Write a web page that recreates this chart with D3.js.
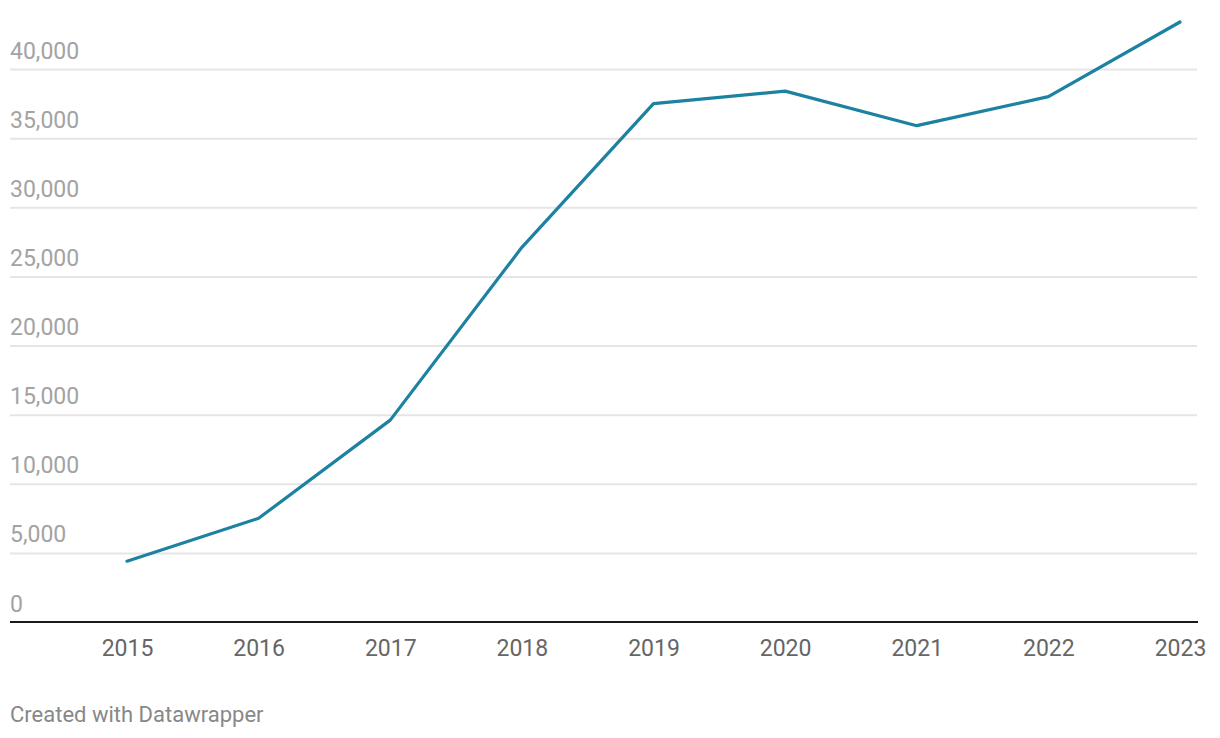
<!DOCTYPE html>
<html>
<head>
<meta charset="utf-8">
<script src="https://cdn.jsdelivr.net/npm/d3@7"></script>
<style>
  html, body { margin: 0; padding: 0; background: #fff; }
  svg { display: block; font-family: Roboto, "Noto Sans", sans-serif; }
</style>
</head>
<body>
<svg id="chart" width="1220" height="738"></svg>
<script>
const years = ["2015","2016","2017","2018","2019","2020","2021","2022","2023"];
const values = [4400, 7500, 14600, 27100, 37500, 38400, 35900, 38000, 43400];
const yTicks = [0, 5000, 10000, 15000, 20000, 25000, 30000, 35000, 40000];
const footerText = "Created with Datawrapper";

const svg = d3.select("#chart");
const left = 10, right = 1197;
const x = d3.scalePoint().domain(years).range([127, 1180]);
const y = d3.scaleLinear().domain([0, 40000]).range([622, 69]);

const fmt = d3.format(",");

// gridlines + y labels
const yAxis = d3.axisLeft(y).tickValues(yTicks).tickSize(0).tickFormat(fmt);
const gy = svg.append("g").call(yAxis);
gy.select(".domain").remove();
gy.selectAll(".tick line").remove();
gy.selectAll(".tick").each(function(d) {
  const t = d3.select(this);
  if (d !== 0) {
    t.insert("line", "text")
      .attr("x1", left).attr("x2", right)
      .attr("y1", 0).attr("y2", 0)
      .attr("stroke", "#e5e5e5").attr("stroke-width", 2);
  }
  t.select("text")
    .attr("x", left).attr("dx", 0).attr("y", -11).attr("dy", 0)
    .attr("text-anchor", "start")
    .attr("fill", "#a3a3a3")
    .style("font-size", "23px")
    .style("font-family", "Roboto, sans-serif");
});

// baseline
svg.append("line")
  .attr("x1", left).attr("x2", 1198)
  .attr("y1", y(0)).attr("y2", y(0))
  .attr("stroke", "#1a1a1a").attr("stroke-width", 2);

// x axis labels
const xAxis = d3.axisBottom(x).tickSize(0).tickPadding(0);
const gx = svg.append("g").attr("transform", `translate(0,${y(0)})`).call(xAxis);
gx.select(".domain").remove();
gx.selectAll(".tick text")
  .attr("y", 34).attr("dy", 0)
  .attr("fill", "#666")
  .style("font-size", "23px")
  .style("font-family", "Roboto, sans-serif");

// line
const line = d3.line()
  .x((d, i) => x(years[i]))
  .y(d => y(d));
svg.append("path")
  .datum(values)
  .attr("d", line)
  .attr("fill", "none")
  .attr("stroke", "#1d81a2")
  .attr("stroke-width", 3.2)
  .attr("stroke-linejoin", "round")
  .attr("stroke-linecap", "round");

// footer
svg.append("text")
  .attr("x", 10).attr("y", 722)
  .attr("fill", "#888")
  .style("font-size", "22px")
  .style("font-family", "Roboto, sans-serif")
  .text(footerText);
</script>
</body>
</html>
